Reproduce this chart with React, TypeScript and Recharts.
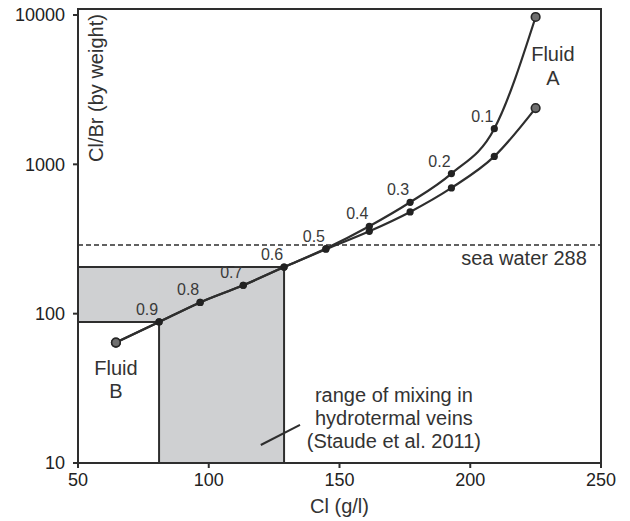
import {
  ComposedChart, Line, XAxis, YAxis, ReferenceArea, ReferenceLine, ReferenceDot, LabelList,
} from "recharts";

const FONT = '"Liberation Sans", Arial, Helvetica, sans-serif';
const INK = "#2e2e2e";

// mixing curve: fraction of fluid B along the line
const fractions = ["", "0.9", "0.8", "0.7", "0.6", "0.5", "0.4", "0.3", "0.2", "0.1", ""];
const cl = [64.5, 81, 96.7, 113.2, 128.8, 144.8, 161.4, 177, 192.8, 209.2, 225];
const brUpper = [64, 88, 119, 155, 205, 273, 385, 557, 867, 1733, 9700];
const brLower = [64, 88, 119, 155, 205, 270, 356, 480, 695, 1130, 2380];

const xTicks = [50, 100, 150, 200, 250];
const yTicks = [10, 100, 1000, 10000];

// range of mixing in veins (Cl and Cl/Br bounds)
const mixCl = [81, 128.8];
const mixBr = [88, 205];
const seaWater = 288;

const upperData = cl.map((x, i) => ({ x, y: brUpper[i], f: fractions[i] }));
const lowerData = cl.map((x, i) => ({ x, y: brLower[i] }));

const renderDot = (props: any) => {
  const { cx, cy, index } = props;
  if (index === 0 || index === cl.length - 1) {
    return <circle key={index} cx={cx} cy={cy} r={4.3} fill="#6f6f6f" stroke="#262626" strokeWidth={1.6} />;
  }
  return <circle key={index} cx={cx} cy={cy} r={3.6} fill="#222" />;
};

const fracLabel = (p: any) => {
  if (!p.value) return null;
  return (
    <text x={p.x - 12} y={p.y - 7} textAnchor="middle" fontSize={16} fill="#3a3a3a" fontFamily={FONT}>
      {p.value}
    </text>
  );
};

function note(lines: string[], anchor: "start" | "middle" | "end", step: number, rotate = false) {
  return {
    content: (p: any) => {
      const vb = p.viewBox || {};
      const cx = vb.x + (vb.width || 0) / 2;
      const cy = vb.y + (vb.height || 0) / 2;
      return (
        <text
          x={cx}
          y={cy}
          textAnchor={anchor}
          fontSize={20}
          fill="#333"
          fontFamily={FONT}
          transform={rotate ? `rotate(-90 ${cx} ${cy})` : undefined}
        >
          {lines.map((l, i) => (
            <tspan key={i} x={cx} dy={i === 0 ? 0 : step}>{l}</tspan>
          ))}
        </text>
      );
    },
  };
}

export default function App() {
  return (
    <div style={{ position: "absolute", left: 0, top: 0, width: 630, height: 521, background: "#fff", fontFamily: FONT }}>
      <ComposedChart width={630} height={521} margin={{ top: 9, right: 29, bottom: 0, left: 0 }}>
        <XAxis
          type="number"
          dataKey="x"
          domain={[50, 250]}
          ticks={xTicks}
          allowDataOverflow
          height={58}
          tickSize={5}
          tickMargin={5}
          axisLine={{ stroke: INK, strokeWidth: 2 }}
          tickLine={{ stroke: INK, strokeWidth: 2 }}
          tick={{ fill: "#222", fontSize: 18, fontFamily: FONT }}
          label={{ value: "Cl (g/l)", position: "insideBottom", offset: 8, fill: "#333", fontSize: 20, fontFamily: FONT }}
        />
        <YAxis
          type="number"
          dataKey="y"
          scale="log"
          domain={[10, 10970]}
          ticks={yTicks}
          allowDataOverflow
          width={78}
          tickSize={5}
          tickMargin={8}
          axisLine={{ stroke: INK, strokeWidth: 2 }}
          tickLine={{ stroke: INK, strokeWidth: 2 }}
          tick={{ fill: "#222", fontSize: 18, fontFamily: FONT }}
        />

        {/* shaded mixing range */}
        <ReferenceArea x1={50} x2={mixCl[1]} y1={mixBr[0]} y2={mixBr[1]} fill="#cfd0d2" fillOpacity={1} stroke="none" />
        <ReferenceArea x1={mixCl[0]} x2={mixCl[1]} y1={10} y2={mixBr[1]} fill="#cfd0d2" fillOpacity={1} stroke="none" />
        <ReferenceLine segment={[{ x: 50, y: mixBr[1] }, { x: mixCl[1], y: mixBr[1] }]} stroke={INK} strokeWidth={2} />
        <ReferenceLine segment={[{ x: 50, y: mixBr[0] }, { x: mixCl[0], y: mixBr[0] }]} stroke={INK} strokeWidth={2} />
        <ReferenceLine segment={[{ x: mixCl[0], y: 10 }, { x: mixCl[0], y: mixBr[0] }]} stroke={INK} strokeWidth={2} />
        <ReferenceLine segment={[{ x: mixCl[1], y: 10 }, { x: mixCl[1], y: mixBr[1] }]} stroke={INK} strokeWidth={2} />
        <ReferenceLine segment={[{ x: 119.9, y: 13.2 }, { x: 134.9, y: 18 }]} stroke={INK} strokeWidth={2} />

        <ReferenceLine y={seaWater} stroke={INK} strokeWidth={1.5} strokeDasharray="5 3" />

        <Line data={lowerData} dataKey="y" type="monotone" stroke={INK} strokeWidth={2.2} dot={renderDot} isAnimationActive={false} />
        <Line data={upperData} dataKey="y" type="monotone" stroke={INK} strokeWidth={2.2} dot={renderDot} isAnimationActive={false}>
          <LabelList dataKey="f" content={fracLabel} />
        </Line>

        {/* annotations */}
        <ReferenceDot x={231.6} y={4920} r={0} fill="none" stroke="none" label={note(["Fluid", "A"], "middle", 24)} />
        <ReferenceDot x={64.5} y={38.8} r={0} fill="none" stroke="none" label={note(["Fluid", "B"], "middle", 23)} />
        <ReferenceDot
          x={170.8}
          y={25.7}
          r={0}
          fill="none"
          stroke="none"
          label={note(["range of mixing in", "hydrotermal veins", "(Staude et al. 2011)"], "middle", 23.3)}
        />
        <ReferenceDot x={244.6} y={212} r={0} fill="none" stroke="none" label={note(["sea water 288"], "end", 0)} />
        <ReferenceDot x={59.6} y={1038} r={0} fill="none" stroke="none" label={note(["Cl/Br (by weight)"], "start", 0, true)} />

        {/* frame */}
        <ReferenceArea x1={50} x2={250} y1={10} y2={10970} fill="none" stroke={INK} strokeWidth={2} />
      </ComposedChart>
    </div>
  );
}
